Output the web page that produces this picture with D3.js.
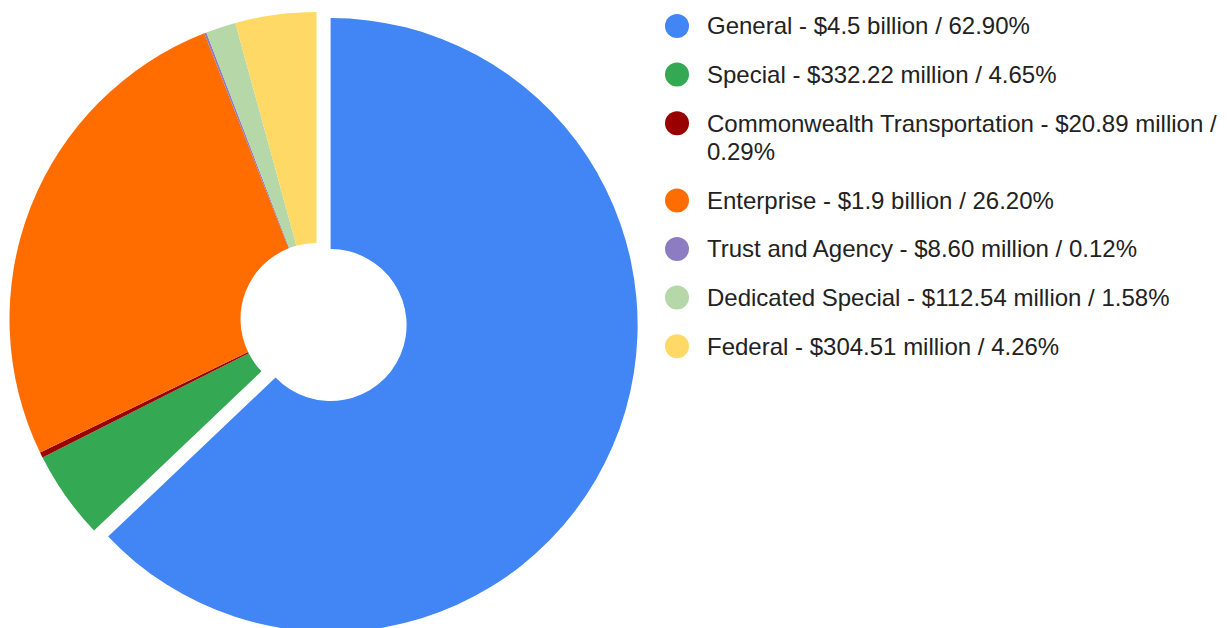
<!DOCTYPE html>
<html>
<head>
<meta charset="utf-8">
<script src="https://cdn.jsdelivr.net/npm/d3@7"></script>
<style>
    body { margin: 0; background: #fff; }
    svg { display: block; }
</style>
</head>
<body>
<div id="chart"></div>
<script>
// Data
let funds = ["General", "Special", "Commonwealth Transportation", "Enterprise", "Trust and Agency", "Dedicated Special", "Federal"];
let amounts = ["$4.5 billion", "$332.22 million", "$20.89 million", "$1.9 billion", "$8.60 million", "$112.54 million", "$304.51 million"];
let shares = [62.90, 4.65, 0.29, 26.20, 0.12, 1.58, 4.26];
let colors = ["#4285f4", "#34a853", "#990000", "#ff6d01", "#8e7cc3", "#b6d7a8", "#ffd966"];
let explodedIdx = 0;

let width = 1227, height = 628;
let center = { x: 316.5, y: 319 };
let outerR = 307;
let innerR = 76;
let offset = 0.05 * outerR;

let svg = d3.select("#chart")
    .append("svg")
    .attr("width", width)
    .attr("height", height);

let pie = d3.pie().sort(null).value(d => d);
let arc = d3.arc().innerRadius(innerR).outerRadius(outerR);

let arcs = pie(shares);

//Pie group
let g = svg.append("g")
    .attr("transform", "translate(" + center.x + "," + center.y + ")");

g.selectAll("path")
    .data(arcs)
    .enter()
    .append("path")
    .attr("d", arc)
    .attr("fill", (d, i) => colors[i])
    .attr("transform", (d, i) => {
        if (i !== explodedIdx) return "";
        let mid = (d.startAngle + d.endAngle) / 2;
        return "translate(" + (Math.sin(mid) * offset) + "," + (-Math.cos(mid) * offset) + ")";
    });

//Legend
let legend = svg.append("g")
    .attr("class", "legend")
    .attr("font-family", "'Liberation Sans', Arial, sans-serif")
    .attr("font-size", "24px")
    .attr("fill", "#222");

let rowY = 26;
let rowGap = 48.6;
let lineH = 28.6;
let textX = 707;
let maxTextW = 515;

funds.forEach((name, i) => {
    let row = legend.append("g");
    row.append("circle")
        .attr("cx", 677)
        .attr("cy", rowY)
        .attr("r", 12)
        .attr("fill", colors[i]);

    let label = name + " - " + amounts[i] + " / " + shares[i].toFixed(2) + "%";
    let text = row.append("text")
        .attr("x", textX)
        .attr("y", rowY)
        .attr("dy", "0.35em");

    // simple word wrap
    let words = label.split(" ");
    let line = [];
    let lines = 0;
    let tspan = text.append("tspan").attr("x", textX);
    words.forEach(w => {
        line.push(w);
        tspan.text(line.join(" "));
        if (tspan.node().getComputedTextLength() > maxTextW && line.length > 1) {
            line.pop();
            tspan.text(line.join(" "));
            line = [w];
            lines++;
            tspan = text.append("tspan")
                .attr("x", textX)
                .attr("dy", lineH)
                .text(w);
        }
    });

    rowY += rowGap + lines * lineH;
});
</script>
</body>
</html>
